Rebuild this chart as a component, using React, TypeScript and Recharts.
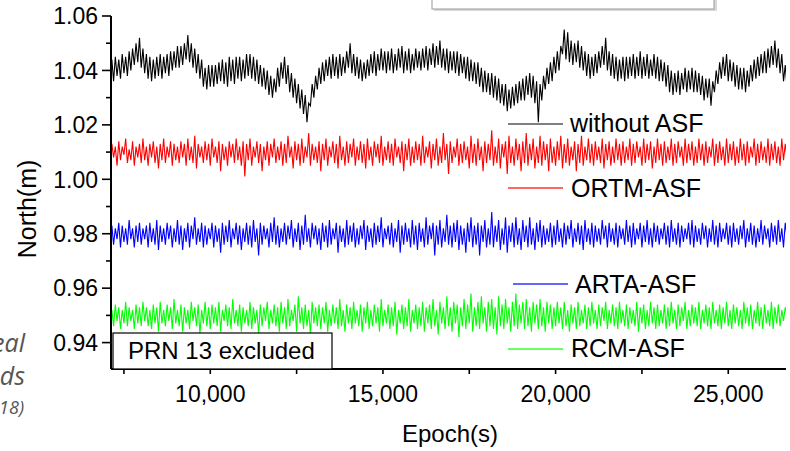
import React from "react";
import { LineChart, Line, XAxis, YAxis } from "recharts";

// Epoch sampling (s)
const epochStart = 7100;
const epochStep = 50;

const withoutASF = [
  1.037,1.044,1.036,1.045,1.038,1.044,1.037,1.046,1.039,1.045,1.038,1.047,1.040,1.048,1.042,1.050,1.043,1.052,1.041,1.048,
  1.039,1.046,1.037,1.045,1.036,1.044,1.037,1.045,1.038,1.046,1.037,1.045,1.039,1.046,1.038,1.047,1.040,1.047,1.041,1.049,
  1.041,1.049,1.042,1.050,1.044,1.053,1.043,1.050,1.041,1.048,1.039,1.046,1.037,1.044,1.034,1.041,1.033,1.042,1.034,1.042,
  1.034,1.042,1.035,1.043,1.036,1.044,1.035,1.043,1.034,1.045,1.036,1.044,1.035,1.045,1.037,1.045,1.036,1.044,1.037,1.046,
  1.038,1.046,1.037,1.045,1.036,1.044,1.035,1.042,1.034,1.041,1.033,1.040,1.031,1.038,1.030,1.037,1.032,1.041,1.034,1.043,
  1.037,1.045,1.035,1.042,1.032,1.039,1.030,1.037,1.028,1.035,1.026,1.033,1.024,1.031,1.021,1.028,1.027,1.035,1.030,1.038,
  1.033,1.041,1.035,1.043,1.036,1.044,1.038,1.045,1.037,1.046,1.038,1.045,1.037,1.046,1.038,1.045,1.039,1.047,1.041,1.050,
  1.039,1.046,1.038,1.045,1.037,1.044,1.036,1.043,1.037,1.044,1.038,1.046,1.039,1.047,1.038,1.046,1.040,1.048,1.040,1.047,
  1.039,1.047,1.040,1.048,1.039,1.046,1.040,1.048,1.041,1.049,1.039,1.047,1.040,1.048,1.039,1.046,1.040,1.048,1.041,1.047,
  1.040,1.048,1.041,1.049,1.040,1.048,1.042,1.050,1.041,1.049,1.042,1.051,1.041,1.048,1.040,1.048,1.039,1.047,1.040,1.047,
  1.039,1.047,1.038,1.046,1.039,1.045,1.037,1.045,1.036,1.044,1.036,1.043,1.035,1.043,1.034,1.041,1.032,1.040,1.032,1.039,
  1.031,1.039,1.030,1.038,1.029,1.037,1.028,1.035,1.027,1.035,1.025,1.033,1.026,1.034,1.027,1.035,1.028,1.036,1.029,1.037,
  1.029,1.038,1.031,1.039,1.030,1.038,1.028,1.036,1.021,1.035,1.029,1.038,1.033,1.041,1.035,1.043,1.036,1.045,1.039,1.047,
  1.040,1.049,1.046,1.055,1.044,1.054,1.043,1.051,1.042,1.050,1.043,1.051,1.041,1.049,1.040,1.047,1.038,1.046,1.037,1.045,
  1.038,1.046,1.039,1.047,1.041,1.049,1.042,1.052,1.040,1.047,1.038,1.046,1.037,1.045,1.036,1.044,1.037,1.045,1.036,1.045,
  1.037,1.045,1.038,1.046,1.037,1.045,1.038,1.047,1.037,1.045,1.038,1.046,1.037,1.044,1.038,1.046,1.037,1.045,1.036,1.044,
  1.036,1.043,1.034,1.042,1.032,1.040,1.031,1.039,1.032,1.040,1.031,1.039,1.033,1.041,1.032,1.040,1.033,1.041,1.032,1.040,
  1.032,1.039,1.031,1.038,1.029,1.037,1.030,1.037,1.027,1.036,1.032,1.040,1.035,1.043,1.037,1.045,1.038,1.046,1.036,1.044,
  1.036,1.043,1.034,1.042,1.033,1.041,1.033,1.041,1.032,1.040,1.034,1.042,1.036,1.044,1.037,1.045,1.038,1.046,1.039,1.047,
  1.039,1.048,1.041,1.049,1.042,1.051,1.041,1.048,1.039,1.046,1.036,1.042,1.034,
];

const ortmASF = [
  1.006,1.013,1.008,1.012,1.005,1.014,1.007,1.012,1.009,1.015,1.006,1.011,1.007,1.014,1.005,1.012,1.008,1.013,1.006,1.015,
  1.007,1.012,1.005,1.013,1.008,1.014,1.006,1.012,1.004,1.013,1.007,1.015,1.006,1.012,1.008,1.014,1.005,1.013,1.007,1.012,
  1.006,1.014,1.008,1.013,1.005,1.015,1.007,1.012,1.006,1.016,1.004,1.013,1.008,1.012,1.006,1.014,1.007,1.013,1.005,1.015,
  1.008,1.012,1.006,1.014,1.003,1.013,1.007,1.012,1.005,1.014,1.008,1.013,1.006,1.015,1.007,1.012,1.005,1.014,1.001,1.013,
  1.007,1.015,1.005,1.012,1.008,1.014,1.006,1.013,1.003,1.012,1.007,1.014,1.005,1.013,1.008,1.015,1.006,1.012,1.007,1.014,
  1.005,1.013,1.006,1.016,1.008,1.012,1.004,1.014,1.007,1.013,1.005,1.015,1.006,1.012,1.008,1.017,1.005,1.013,1.007,1.012,
  1.006,1.014,1.003,1.013,1.007,1.015,1.005,1.012,1.008,1.014,1.006,1.013,1.004,1.016,1.007,1.012,1.005,1.014,1.006,1.013,
  1.008,1.015,1.005,1.012,1.007,1.014,1.006,1.013,1.004,1.015,1.007,1.012,1.005,1.014,1.008,1.013,1.006,1.016,1.005,1.012,
  1.007,1.014,1.006,1.013,1.005,1.015,1.008,1.012,1.006,1.014,1.003,1.013,1.007,1.015,1.005,1.012,1.006,1.014,1.007,1.013,
  1.005,1.016,1.006,1.012,1.008,1.014,1.004,1.013,1.007,1.015,1.005,1.012,1.006,1.017,1.007,1.013,1.002,1.014,1.006,1.012,
  1.008,1.015,1.005,1.013,1.006,1.014,1.007,1.012,1.004,1.016,1.006,1.013,1.005,1.015,1.007,1.012,1.003,1.014,1.006,1.013,
  1.007,1.018,1.005,1.012,1.006,1.015,1.004,1.013,1.008,1.014,1.002,1.016,1.006,1.012,1.005,1.015,1.007,1.013,1.003,1.014,
  1.006,1.017,1.005,1.013,1.007,1.015,1.004,1.012,1.006,1.016,1.005,1.014,1.007,1.013,1.003,1.015,1.006,1.012,1.005,1.014,
  1.007,1.016,1.004,1.013,1.006,1.015,1.005,1.012,1.007,1.014,1.003,1.013,1.006,1.016,1.005,1.012,1.007,1.015,1.006,1.013,
  1.005,1.014,1.007,1.012,1.006,1.015,1.004,1.013,1.007,1.014,1.005,1.012,1.006,1.015,1.007,1.013,1.005,1.014,1.006,1.012,
  1.007,1.015,1.005,1.013,1.006,1.014,1.008,1.012,1.005,1.015,1.006,1.013,1.007,1.014,1.004,1.012,1.006,1.015,1.007,1.013,
  1.005,1.014,1.006,1.012,1.007,1.015,1.005,1.013,1.006,1.014,1.008,1.012,1.005,1.015,1.006,1.013,1.007,1.014,1.005,1.012,
  1.006,1.015,1.007,1.013,1.005,1.014,1.006,1.012,1.008,1.015,1.005,1.013,1.006,1.014,1.007,1.012,1.005,1.015,1.006,1.013,
  1.007,1.014,1.005,1.012,1.006,1.015,1.007,1.013,1.005,1.014,1.006,1.012,1.008,1.015,1.005,1.013,1.006,1.014,1.007,1.012,
  1.006,1.015,1.005,1.013,1.007,1.014,1.006,1.012,1.005,1.015,1.007,1.013,1.008,
];

const artaASF = [
  0.977,0.983,0.976,0.982,0.978,0.984,0.975,0.983,0.977,0.982,0.976,0.985,0.978,0.982,0.975,0.983,0.977,0.984,0.976,0.982,
  0.978,0.983,0.975,0.984,0.977,0.982,0.976,0.985,0.974,0.983,0.977,0.982,0.976,0.984,0.978,0.983,0.975,0.982,0.977,0.985,
  0.976,0.983,0.974,0.982,0.977,0.984,0.975,0.983,0.978,0.986,0.976,0.982,0.977,0.984,0.975,0.983,0.976,0.982,0.978,0.984,
  0.975,0.983,0.977,0.982,0.973,0.984,0.976,0.983,0.977,0.985,0.975,0.982,0.978,0.984,0.976,0.983,0.974,0.982,0.977,0.984,
  0.976,0.983,0.975,0.985,0.977,0.982,0.972,0.984,0.976,0.983,0.978,0.982,0.975,0.984,0.977,0.986,0.976,0.983,0.975,0.982,
  0.977,0.984,0.976,0.983,0.978,0.985,0.975,0.982,0.977,0.984,0.974,0.983,0.976,0.987,0.977,0.982,0.975,0.984,0.978,0.983,
  0.976,0.982,0.974,0.984,0.977,0.983,0.975,0.985,0.976,0.982,0.978,0.984,0.973,0.983,0.977,0.982,0.975,0.985,0.976,0.983,
  0.977,0.984,0.975,0.982,0.976,0.983,0.978,0.985,0.974,0.983,0.977,0.982,0.975,0.984,0.976,0.983,0.977,0.986,0.975,0.982,
  0.978,0.983,0.976,0.984,0.975,0.982,0.977,0.985,0.973,0.983,0.976,0.984,0.977,0.982,0.975,0.985,0.976,0.983,0.974,0.984,
  0.977,0.982,0.975,0.986,0.976,0.983,0.978,0.984,0.972,0.983,0.976,0.985,0.975,0.982,0.977,0.987,0.976,0.983,0.975,0.984,
  0.977,0.985,0.974,0.983,0.976,0.982,0.973,0.984,0.977,0.986,0.975,0.983,0.976,0.984,0.972,0.983,0.977,0.985,0.975,0.982,
  0.976,0.988,0.975,0.983,0.977,0.985,0.974,0.982,0.976,0.986,0.973,0.983,0.977,0.984,0.975,0.986,0.976,0.982,0.974,0.985,
  0.977,0.983,0.975,0.986,0.976,0.982,0.974,0.984,0.977,0.985,0.975,0.983,0.976,0.982,0.977,0.984,0.975,0.983,0.976,0.985,
  0.977,0.982,0.975,0.984,0.976,0.983,0.978,0.985,0.975,0.982,0.977,0.984,0.976,0.983,0.974,0.985,0.977,0.982,0.976,0.984,
  0.975,0.983,0.977,0.982,0.976,0.985,0.978,0.983,0.975,0.984,0.977,0.982,0.976,0.984,0.975,0.983,0.978,0.982,0.976,0.985,
  0.977,0.983,0.975,0.984,0.976,0.982,0.978,0.984,0.975,0.983,0.977,0.985,0.976,0.982,0.975,0.984,0.977,0.983,0.976,0.982,
  0.978,0.984,0.976,0.983,0.975,0.985,0.977,0.982,0.976,0.984,0.975,0.983,0.977,0.982,0.978,0.984,0.976,0.985,0.975,0.983,
  0.977,0.982,0.976,0.984,0.978,0.983,0.975,0.982,0.977,0.985,0.976,0.983,0.975,0.984,0.977,0.982,0.978,0.984,0.976,0.983,
  0.975,0.984,0.977,0.982,0.976,0.983,0.978,0.985,0.975,0.982,0.977,0.984,0.976,0.983,0.975,0.982,0.977,0.985,0.976,0.983,
  0.978,0.982,0.975,0.984,0.977,0.983,0.976,0.985,0.977,0.982,0.975,0.984,0.979,
];

const rcmASF = [
  0.947,0.952,0.946,0.954,0.948,0.953,0.945,0.952,0.947,0.955,0.946,0.953,0.948,0.952,0.945,0.954,0.947,0.953,0.946,0.955,
  0.948,0.953,0.946,0.952,0.945,0.954,0.947,0.953,0.944,0.955,0.947,0.952,0.946,0.954,0.948,0.953,0.945,0.956,0.947,0.952,
  0.946,0.954,0.944,0.953,0.947,0.952,0.945,0.955,0.948,0.953,0.946,0.954,0.943,0.952,0.947,0.955,0.946,0.953,0.945,0.954,
  0.947,0.953,0.946,0.955,0.944,0.952,0.948,0.954,0.946,0.953,0.945,0.956,0.947,0.952,0.946,0.954,0.944,0.953,0.947,0.952,
  0.946,0.955,0.945,0.953,0.947,0.952,0.943,0.954,0.946,0.953,0.948,0.955,0.945,0.952,0.947,0.954,0.946,0.953,0.944,0.955,
  0.947,0.953,0.945,0.956,0.946,0.952,0.948,0.954,0.944,0.957,0.947,0.953,0.945,0.954,0.946,0.952,0.943,0.955,0.947,0.953,
  0.946,0.954,0.945,0.953,0.947,0.955,0.944,0.952,0.946,0.954,0.947,0.953,0.945,0.956,0.946,0.952,0.944,0.954,0.947,0.953,
  0.945,0.955,0.947,0.952,0.946,0.954,0.944,0.953,0.947,0.955,0.945,0.952,0.946,0.954,0.947,0.953,0.944,0.956,0.946,0.952,
  0.947,0.954,0.945,0.953,0.946,0.955,0.943,0.952,0.947,0.954,0.945,0.953,0.946,0.956,0.944,0.952,0.947,0.954,0.945,0.953,
  0.946,0.955,0.944,0.953,0.947,0.954,0.945,0.956,0.946,0.952,0.943,0.955,0.947,0.953,0.945,0.957,0.946,0.953,0.944,0.955,
  0.947,0.954,0.942,0.953,0.946,0.956,0.945,0.954,0.947,0.958,0.944,0.953,0.946,0.955,0.945,0.957,0.947,0.953,0.944,0.955,
  0.946,0.956,0.945,0.953,0.943,0.957,0.946,0.954,0.945,0.956,0.947,0.953,0.944,0.955,0.946,0.958,0.945,0.954,0.947,0.955,
  0.945,0.956,0.946,0.953,0.944,0.955,0.947,0.954,0.945,0.956,0.946,0.953,0.944,0.955,0.947,0.954,0.945,0.953,0.946,0.955,
  0.947,0.953,0.945,0.955,0.946,0.952,0.944,0.954,0.947,0.953,0.945,0.955,0.946,0.952,0.947,0.954,0.945,0.953,0.946,0.955,
  0.947,0.952,0.945,0.954,0.946,0.953,0.948,0.955,0.945,0.952,0.947,0.954,0.946,0.953,0.945,0.955,0.947,0.952,0.946,0.954,
  0.945,0.953,0.947,0.952,0.946,0.955,0.944,0.953,0.947,0.954,0.945,0.952,0.946,0.955,0.947,0.953,0.945,0.954,0.946,0.952,
  0.947,0.954,0.945,0.953,0.946,0.955,0.947,0.952,0.945,0.954,0.946,0.953,0.948,0.955,0.945,0.952,0.946,0.954,0.947,0.953,
  0.946,0.955,0.945,0.952,0.947,0.954,0.946,0.953,0.945,0.955,0.947,0.952,0.946,0.954,0.945,0.953,0.947,0.955,0.946,0.952,
  0.945,0.954,0.947,0.953,0.946,0.952,0.945,0.955,0.947,0.953,0.946,0.954,0.945,0.952,0.947,0.955,0.946,0.953,0.945,0.954,
  0.947,0.952,0.946,0.955,0.945,0.953,0.947,0.954,0.946,0.952,0.948,0.953,0.950,
];

const xTicks = [7500, 10000, 12500, 15000, 17500, 20000, 22500, 25000];
const xLabelTicks = [10000, 15000, 20000, 25000];
const yTicks = [0.94, 0.95, 0.96, 0.97, 0.98, 0.99, 1.0, 1.01, 1.02, 1.03, 1.04, 1.05, 1.06];
const yLabelTicks = [0.94, 0.96, 0.98, 1.0, 1.02, 1.04, 1.06];
const xDomain: [number, number] = [7125, 26672];
const yDomain: [number, number] = [0.9303, 1.06];

const seriesNames = ["without ASF", "ORTM-ASF", "ARTA-ASF", "RCM-ASF"];
const seriesColors = ["#000000", "#ff0000", "#0000ff", "#00ff00"];
const legendColors = ["#555555", "#ff3333", "#3333ff", "#33ff33"];

const data = withoutASF.map((v, i) => ({
  epoch: epochStart + i * epochStep,
  without: v,
  ortm: ortmASF[i],
  arta: artaASF[i],
  rcm: rcmASF[i],
}));

const FONT = "'Liberation Sans', Arial, sans-serif";

const isIn = (arr: number[], v: number) => arr.some((a) => Math.abs(a - v) < 1e-6);

const LeftTick = (props: any) => {
  const { x, y, payload } = props;
  const v = payload.value as number;
  const major = isIn(yLabelTicks, v);
  return (
    <g>
      <line x1={x - (major ? 9 : 5)} x2={x} y1={y} y2={y} stroke="#000" strokeWidth={1.6} />
      {major && (
        <text x={x - 13} y={y} dy="0.36em" textAnchor="end" fontSize={23} fontFamily={FONT} fill="#000">
          {v.toFixed(2)}
        </text>
      )}
    </g>
  );
};

const BottomTick = (props: any) => {
  const { x, y, payload } = props;
  const v = payload.value as number;
  const major = isIn(xLabelTicks, v);
  return (
    <g>
      <line x1={x} x2={x} y1={y} y2={y + 5} stroke="#000" strokeWidth={1.6} />
      {major && (
        <text x={x} y={y + 33} textAnchor="middle" fontSize={23} fontFamily={FONT} fill="#000">
          {v.toLocaleString("en-US")}
        </text>
      )}
    </g>
  );
};

const legendPos = [
  { lx: 508, ly: 124, tx: 570, ty: 132 },
  { lx: 508, ly: 188, tx: 571, ty: 197 },
  { lx: 513, ly: 284, tx: 575, ty: 293 },
  { lx: 508, ly: 349, tx: 571, ty: 357 },
];

export default function App() {
  return (
    <div style={{ position: "absolute", left: 0, top: 0, width: 790, height: 451, background: "#fff" }}>
      <LineChart width={790} height={451} data={data} margin={{ top: 16, right: 4, bottom: 0, left: 0 }}>
        <XAxis
          dataKey="epoch"
          type="number"
          domain={xDomain}
          allowDataOverflow
          ticks={xTicks}
          height={82}
          tickSize={0}
          tickMargin={0}
          tickLine={false}
          tick={<BottomTick />}
          axisLine={{ stroke: "#000", strokeWidth: 2 }}
        />
        <XAxis
          xAxisId="top"
          dataKey="epoch"
          type="number"
          orientation="top"
          domain={xDomain}
          allowDataOverflow
          ticks={xTicks}
          height={0}
          mirror
          tick={false}
          tickSize={6}
          tickLine={{ stroke: "#000", strokeWidth: 1.6 }}
          axisLine={{ stroke: "#000", strokeWidth: 2 }}
        />
        <YAxis
          type="number"
          domain={yDomain}
          allowDataOverflow
          ticks={yTicks}
          width={111}
          tickSize={0}
          tickMargin={0}
          tickLine={false}
          tick={<LeftTick />}
          axisLine={{ stroke: "#000", strokeWidth: 2 }}
        />
        <YAxis
          yAxisId="right"
          orientation="right"
          type="number"
          domain={yDomain}
          allowDataOverflow
          ticks={yTicks}
          width={0}
          mirror
          tick={false}
          tickSize={8}
          tickLine={{ stroke: "#000", strokeWidth: 1.6 }}
          axisLine={{ stroke: "#000", strokeWidth: 2 }}
        />
        <Line dataKey="without" name={seriesNames[0]} stroke={seriesColors[0]} strokeWidth={1.1} dot={false} isAnimationActive={false} />
        <Line dataKey="ortm" name={seriesNames[1]} stroke={seriesColors[1]} strokeWidth={1.1} dot={false} isAnimationActive={false} />
        <Line dataKey="arta" name={seriesNames[2]} stroke={seriesColors[2]} strokeWidth={1.1} dot={false} isAnimationActive={false} />
        <Line dataKey="rcm" name={seriesNames[3]} stroke={seriesColors[3]} strokeWidth={1.1} dot={false} isAnimationActive={false} />
      </LineChart>
      <svg
        width={790}
        height={451}
        style={{ position: "absolute", left: 0, top: 0, pointerEvents: "none" }}
      >
        {/* partial box at top */}
        <rect x={434} y={-10} width={283} height={21} fill="#d8d8d8" />
        <rect x={432} y={-10} width={282} height={19} fill="#fff" stroke="#9a9a9a" strokeWidth={1} />
        {/* legend */}
        {legendPos.map((p, i) => (
          <g key={seriesNames[i]}>
            <line x1={p.lx} x2={p.lx + 55} y1={p.ly} y2={p.ly} stroke={legendColors[i]} strokeWidth={1.3} />
            <text x={p.tx} y={p.ty} fontSize={25} fontFamily={FONT} fill="#000">
              {seriesNames[i]}
            </text>
          </g>
        ))}
        {/* annotation box */}
        <rect x={113} y={333} width={219} height={36} fill="#fff" stroke="#000" strokeWidth={1.2} />
        <text x={128} y={359} fontSize={24} fontFamily={FONT} fill="#000">
          PRN 13 excluded
        </text>
        {/* axis titles */}
        <text
          x={36}
          y={209}
          transform="rotate(-90 36 209)"
          textAnchor="middle"
          fontSize={25}
          fontFamily={FONT}
          fill="#000"
        >
          North(m)
        </text>
        <text x={450} y={442} textAnchor="middle" fontSize={24} fontFamily={FONT} fill="#000">
          Epoch(s)
        </text>
        {/* cropped side text */}
        <text x={25} y={352} textAnchor="end" fontSize={25} fontStyle="italic" fontFamily="'Open Sans', sans-serif" fill="#555">
          eal
        </text>
        <text x={25} y={385} textAnchor="end" fontSize={25} fontStyle="italic" fontFamily="'Open Sans', sans-serif" fill="#555">
          ds
        </text>
        <text x={24} y={414} textAnchor="end" fontSize={18} fontStyle="italic" fontFamily="'Open Sans', sans-serif" fill="#555">
          18)
        </text>
      </svg>
    </div>
  );
}
